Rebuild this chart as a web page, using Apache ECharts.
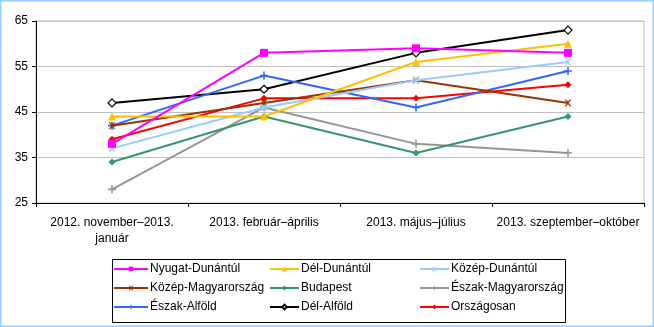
<!DOCTYPE html>
<html><head><meta charset="utf-8">
<script src="https://cdn.jsdelivr.net/npm/echarts@6/dist/echarts.min.js"></script>
<style>html,body{margin:0;padding:0;background:#fff}#c{width:654px;height:327px}</style>
</head><body><div id="c"></div>
<script>
const categories = ['2012. november–2013.\njanuár', '2013. február–április', '2013. május–július', '2013. szeptember–október'];
const yTicks = [25, 35, 45, 55, 65];
const seriesNames = ['Nyugat-Dunántúl','Dél-Dunántúl','Közép-Dunántúl','Közép-Magyarország','Budapest','Észak-Magyarország','Észak-Alföld','Dél-Alföld','Országosan'];
const nyugatDunantul = [38, 58, 59, 58];
const delDunantul = [44, 44, 56, 60];
const kozepDunantul = [37, 46, 52, 56];
const kozepMagyarorszag = [42, 47, 52, 47];
const budapest = [34, 44, 36, 44];
const eszakMagyarorszag = [28, 46, 38, 36];
const eszakAlfold = [42, 53, 46, 54];
const delAlfold = [47, 50, 58, 63];
const orszagosan = [39, 48, 48, 51];
const seriesValues = [nyugatDunantul, delDunantul, kozepDunantul, kozepMagyarorszag, budapest, eszakMagyarorszag, eszakAlfold, delAlfold, orszagosan];

const colors = ['#ff00ff','#ffc000','#99ccff','#993300','#339966','#969696','#3366ff','#000000','#ff0000'];
const X = 'path://M0,0L2,0L5,3L8,0L10,0L6,5L10,10L8,10L5,7L2,10L0,10L4,5Z';
const P = 'path://M4,0L6,0L6,4L10,4L10,6L6,6L6,10L4,10L4,6L0,6L0,4L4,4Z';
const symbols = ['rect','triangle',X,X,'diamond',P,P,'diamond','diamond'];
const sizes = [8,8,7,7,7,8,8,8,7];
const font = 'Arial, "Liberation Sans", sans-serif';

const series = seriesNames.map((n,i)=>({
  name:n, type:'line', data:seriesValues[i], symbol:symbols[i], symbolSize:sizes[i],
  showSymbol:true, animation:false,
  lineStyle:{color:colors[i], width:2},
  itemStyle: i===7 ? {color:'#fff', borderColor:'#000', borderWidth:1.2} : {color:colors[i]},
  z: 10-i
}));

function legendCol(names, left, w){
  return {data:names, orient:'vertical', left:left, top:263, itemWidth:w, itemHeight:6, itemGap:7,
    textStyle:{fontFamily:font, fontSize:12, color:'#000', padding:[0,0,0,-3]}, selectedMode:false, padding:0};
}

const chart = echarts.init(document.getElementById('c'));
chart.setOption({
  animation:false,
  color: colors,
  grid:{left:36, right:10, top:21, bottom:124, show:true, borderColor:'#c0c0c0', borderWidth:1},
  xAxis:{type:'category', data:categories, boundaryGap:true,
    axisLine:{lineStyle:{color:'#000', width:1}},
    axisTick:{show:true, length:4, lineStyle:{color:'#000'}},
    axisLabel:{fontFamily:font, fontSize:12, color:'#000', margin:12, interval:0, lineHeight:16}},
  yAxis:{type:'value', min:25, max:65, interval:10,
    axisLine:{show:true, lineStyle:{color:'#000'}},
    axisTick:{show:true, length:4, lineStyle:{color:'#000'}},
    axisLabel:{fontFamily:font, fontSize:12, color:'#000', margin:8},
    splitLine:{lineStyle:{color:'#c0c0c0', width:1}}},
  legend:[
    legendCol([seriesNames[0],seriesNames[3],seriesNames[6]], 113, 34),
    legendCol([seriesNames[1],seriesNames[4],seriesNames[7]], 269, 29),
    legendCol([seriesNames[2],seriesNames[5],seriesNames[8]], 419, 29)
  ],
  graphic:[
    {type:'rect', shape:{x:112.5, y:259.5, width:453, height:63}, style:{fill:'none', stroke:'#000', lineWidth:1}, z:-1},
    {type:'rect', shape:{x:0.5, y:0.5, width:653, height:326}, style:{fill:'none', stroke:'#99ccff', lineWidth:2}, z:-1}
  ],
  series: series
});
</script></body></html>
